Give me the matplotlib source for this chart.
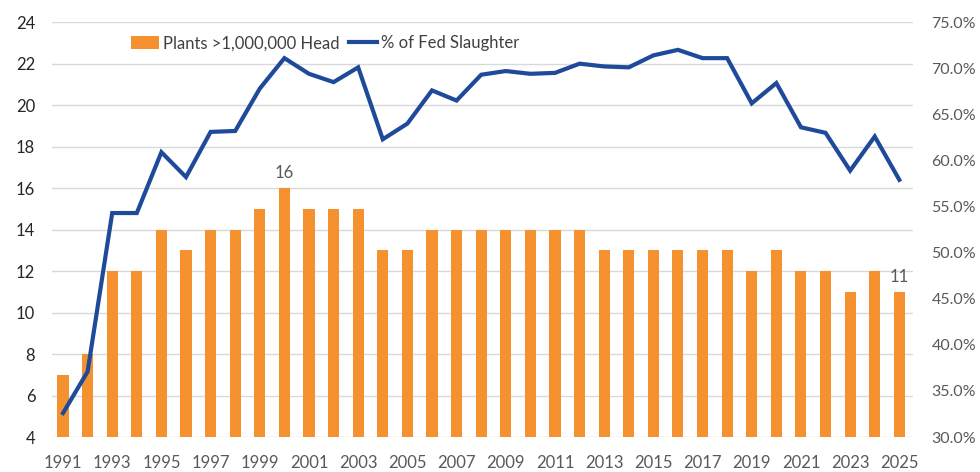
import matplotlib.pyplot as plt
import numpy as np
from matplotlib.ticker import FuncFormatter

plt.rcParams['font.family'] = ['Lato', 'DejaVu Sans']

# Данные
years = list(range(1991, 2026))
plants = [7, 8, 12, 12, 14, 13, 14, 14, 15, 16, 15, 15, 15, 13, 13, 14, 14, 14,
          14, 14, 14, 14, 13, 13, 13, 13, 13, 13, 12, 13, 12, 12, 11, 12, 11]
fed_share = [32.6, 37.1, 54.3, 54.3, 60.9, 58.2, 63.1, 63.2, 67.8, 71.1, 69.4,
             68.5, 70.1, 62.3, 64.0, 67.6, 66.5, 69.3, 69.7, 69.4, 69.5, 70.5,
             70.2, 70.1, 71.4, 72.0, 71.1, 71.1, 66.2, 68.4, 63.6, 63.0, 58.9,
             62.6, 57.9]
tick_years = [str(y) if (y - 1991) % 2 == 0 else '' for y in years]

orange = '#F5922F'
blue = '#1F4A9A'
grid_c = '#D9D9D9'

fig = plt.figure(figsize=(9.8, 4.72), dpi=100)
ax = fig.add_axes([0.053, 0.074, 0.879, 0.879])
x = np.arange(len(years))

bars = ax.bar(x, plants, width=0.45, color=orange, label='Plants >1,000,000 Head', zorder=2)
ax.set_ylim(4, 24)
ax.set_yticks(range(4, 25, 2))
ax.set_xlim(-0.45, len(years) - 1 + 0.57)
ax.set_xticks(x)
ax.set_xticklabels(tick_years)
ax.grid(axis='y', color=grid_c, linewidth=1, zorder=0)
ax.set_axisbelow(True)
for s in ax.spines.values():
    s.set_visible(False)
ax.tick_params(axis='x', length=0, labelsize=12, colors='#595959', pad=13)
ax.tick_params(axis='y', length=0, labelsize=12, colors='#262626', pad=12)

# подписи над столбцами 2000 и 2025
for i in [years.index(2000), years.index(2025)]:
    ax.annotate(str(plants[i]), (x[i], plants[i]), xytext=(0, 5), textcoords='offset points',
                ha='center', va='bottom', fontsize=12, color='#595959')

ax2 = ax.twinx()
line, = ax2.plot(x, fed_share, color=blue, linewidth=3, label='% of Fed Slaughter',
                 solid_joinstyle='miter', zorder=3)
ax2.set_ylim(30, 75)
ax2.set_yticks(np.arange(30, 76, 5))
ax2.yaxis.set_major_formatter(FuncFormatter(lambda v, p: f'{v:.1f}%'))
for s in ax2.spines.values():
    s.set_visible(False)
ax2.tick_params(length=0, labelsize=11.5, colors='#595959', pad=13)

ax.legend([bars, line], ['Plants >1,000,000 Head', '% of Fed Slaughter'],
          loc='center', bbox_to_anchor=(0.317, 0.949), ncol=2, frameon=False,
          fontsize=12, handlelength=1.7, handleheight=0.8, handletextpad=0.2,
          columnspacing=0.6, labelcolor='#404040')

fig.savefig('out.png', dpi=100)
